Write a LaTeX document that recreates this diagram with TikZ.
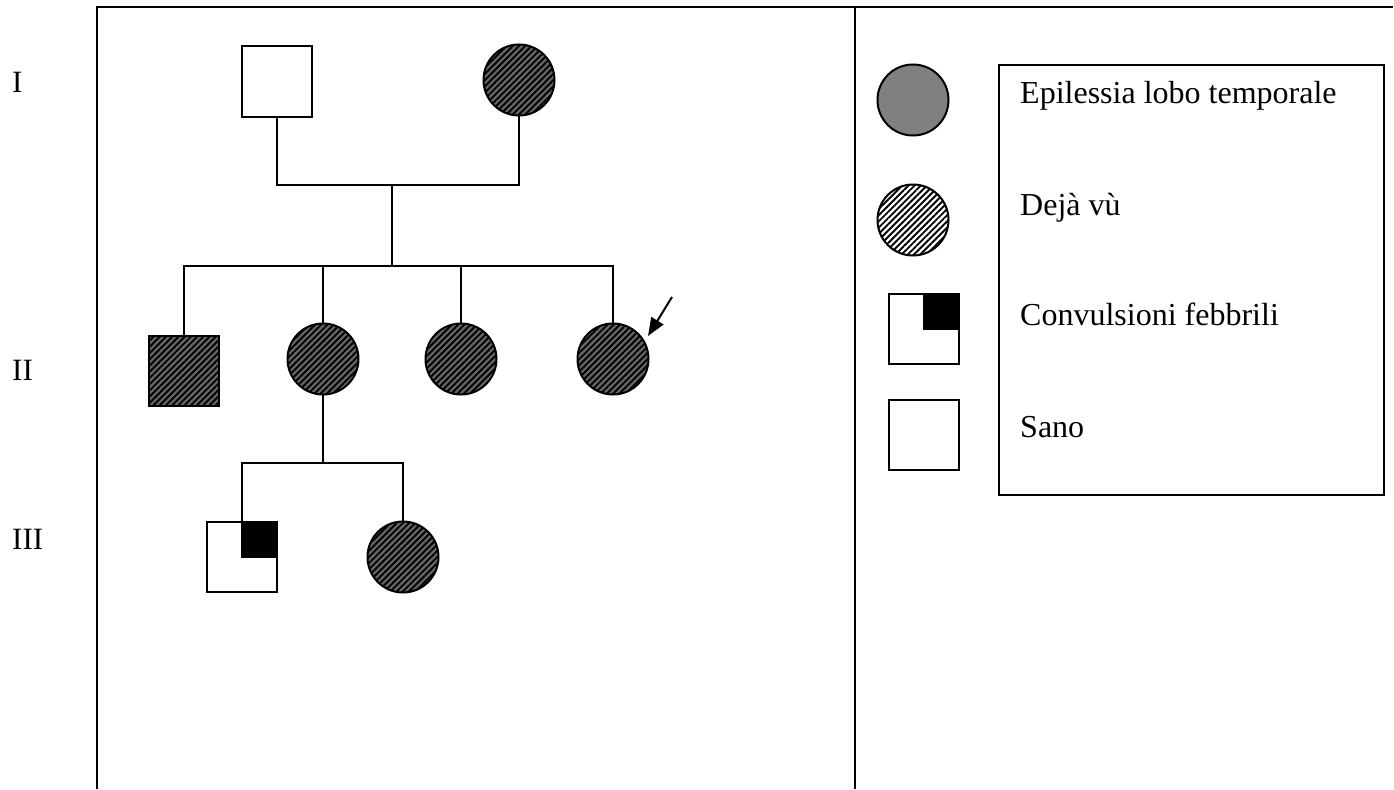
\documentclass[tikz,border=0pt]{standalone}
\usepackage{fontspec}
\setmainfont{Liberation Serif}
\usetikzlibrary{patterns.meta,arrows.meta}

\tikzset{
  frameline/.style={line width=2.6bp},
  link/.style={line width=2bp},
  person/.style={draw, line width=2bp, inner sep=0pt, outer sep=0pt},
  male/.style={person, rectangle, minimum size=70bp},
  female/.style={person, circle, minimum size=71bp},
  affected/.style={preaction={fill=gray!80!black},
    pattern={Lines[angle=45,distance=4.4bp,line width=1.9bp]}, pattern color=black},
  dejavu/.style={preaction={fill=white},
    pattern={Lines[angle=45,distance=4.4bp,line width=1.9bp]}, pattern color=black},
  epilessia/.style={fill=gray},
  legendtext/.style={anchor=base west, inner sep=0pt, font=\fontsize{32bp}{38bp}\selectfont},
  gentext/.style={anchor=base west, inner sep=0pt, font=\fontsize{31bp}{37bp}\selectfont},
  proband/.style={line width=2bp, -{Triangle[length=18bp,width=14bp]}}
}

\begin{document}
\begin{tikzpicture}[x=1bp, y=-1bp]
\useasboundingbox (0,0) rectangle (1394,789);

% outer table frame
\draw[frameline] (97,789) -- (97,7) -- (1393,7);
\draw[frameline] (855,7) -- (855,789);

% generation numbers
\node[gentext] (gI) at (12,92) {I};
\node[gentext] (gII) at (12,380) {II};
\node[gentext] (gIII) at (12,549) {III};

% generation I
\node[male] (I1) at (277,81.5) {};
\node[female, affected] (I2) at (519,80) {};

% generation II
\node[male, affected] (II1) at (183.5,370.5) {};
\node[female, affected] (II2) at (323,359) {};
\node[female, affected] (II3) at (461,359) {};
\node[female, affected] (II4) at (613,359) {};

% generation III
\node[male] (III1) at (242,556.5) {};
\fill (III1.center) rectangle (III1.north east);
\draw[line width=2bp] (III1.center) rectangle (III1.north east);
\node[female, affected] (III2) at (403,557) {};

% mating and sibship lines
\coordinate (m1) at (392,185);
\coordinate (s1) at (392,266);
\coordinate (s2) at (323,463);
\draw[link] (I1.south) |- (I2.south |- m1) -- (I2.south);
\draw[link] (m1) -- (s1);
\draw[link] (II1.north) |- (II4.north |- s1) -- (II4.north);
\draw[link] (II2.north) -- (II2.north |- s1);
\draw[link] (II3.north) -- (II3.north |- s1);
\draw[link] (II2.south) -- (s2);
\draw[link] (III1.north) |- (III2.north |- s2) -- (III2.north);

% proband arrow
\coordinate (pa) at (672,297);
\draw[proband] (pa) -- (648,336);

% legend symbols
\node[female, epilessia] (Lepi) at (913,100) {};
\node[female, dejavu] (Ldeja) at (913,220) {};
\node[male] (Lconv) at (924,329) {};
\fill (Lconv.center) rectangle (Lconv.north east);
\draw[line width=2bp] (Lconv.center) rectangle (Lconv.north east);
\node[male] (Lsano) at (924,435) {};

% legend box and labels
\draw[line width=1.7bp] (999,65) rectangle (1384,495);
\node[legendtext] (tepi) at (1020,103) {Epilessia lobo temporale};
\node[legendtext] (tdeja) at (1020,215) {Dejà vù};
\node[legendtext] (tconv) at (1020,325) {Convulsioni febbrili};
\node[legendtext] (tsano) at (1020,437) {Sano};
\end{tikzpicture}
\end{document}
